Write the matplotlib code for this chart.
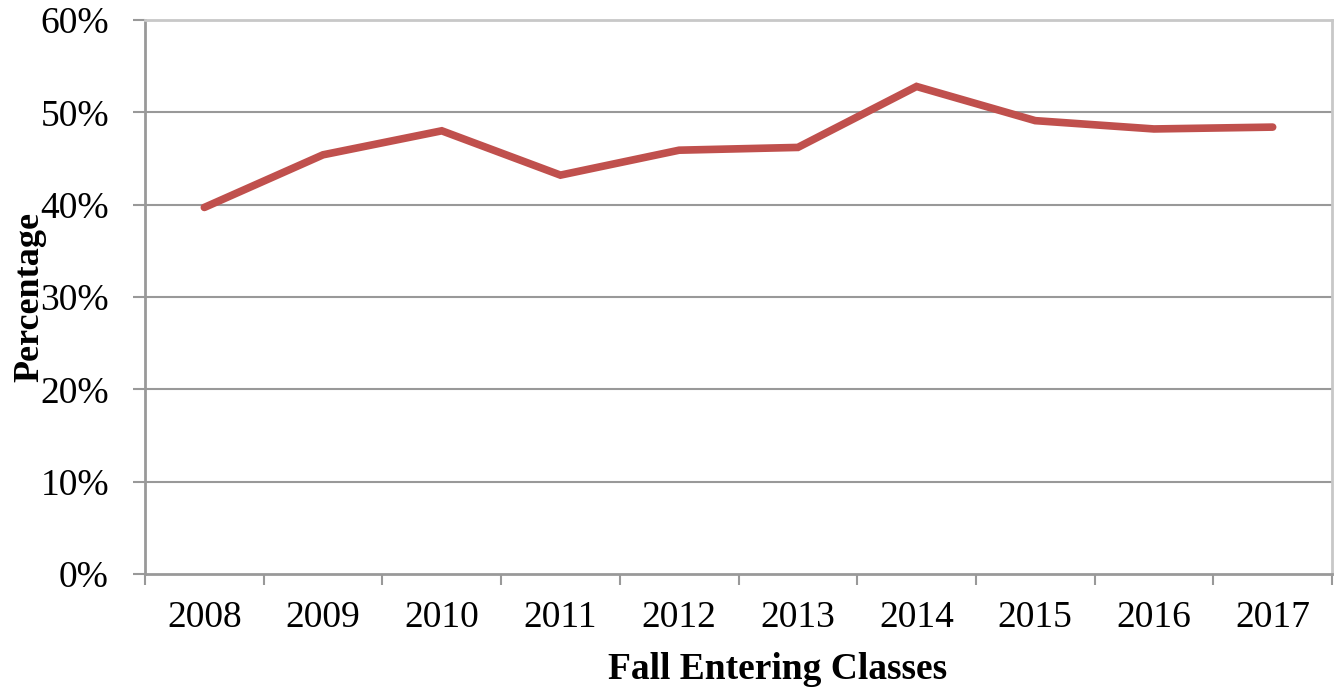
import matplotlib
matplotlib.use('Agg')
import matplotlib.pyplot as plt
from matplotlib.ticker import FixedLocator, PercentFormatter

# - Data
years = ['2008', '2009', '2010', '2011', '2012', '2013', '2014', '2015', '2016', '2017']
percent = [39.7, 45.4, 48.0, 43.2, 45.9, 46.2, 52.8, 49.1, 48.2, 48.4]

plt.rcParams['font.family'] = ['Liberation Serif', 'DejaVu Serif']

fig = plt.figure(figsize=(13.35, 6.92), dpi=100)
ax = fig.add_axes([145/1335, 1 - 574/692, (1332-145)/1335, (574-20)/692])

x = list(range(len(years)))
ax.plot(x, percent, color='#C0504D', lw=5.5, solid_capstyle='round', solid_joinstyle='miter', zorder=3)

ax.set_xlim(-0.5, len(years) - 0.5)
ax.set_ylim(0, 60)

# - Ticks
ax.set_yticks(range(0, 61, 10))
ax.yaxis.set_major_formatter(PercentFormatter(decimals=0))
ax.set_xticks(x)
ax.set_xticklabels(years)
ax.xaxis.set_minor_locator(FixedLocator([i - 0.5 for i in range(len(years) + 1)]))
ax.tick_params(axis='x', which='major', length=0, pad=19, labelsize=27)
ax.tick_params(axis='x', which='minor', length=8, width=1.5, color='#999999', direction='out')
ax.tick_params(axis='y', length=9, width=1.5, color='#999999', labelsize=27, pad=17)

# - Grid and spines
for v in range(10, 60, 10):
    ax.axhline(v, color='#999999', lw=1.5, zorder=1)
for side in ['left', 'bottom']:
    ax.spines[side].set_color('#999999')
    ax.spines[side].set_linewidth(2)
for side in ['top', 'right']:
    ax.spines[side].set_color('#c8c8c8')
    ax.spines[side].set_linewidth(2)

ax.set_ylabel('Percentage', fontsize=26, fontweight='bold')
ax.yaxis.set_label_coords(-0.083, 0.5)
ax.set_xlabel('Fall Entering Classes', fontsize=27, fontweight='bold', labelpad=12)
ax.xaxis.label.set_x(0.533)

plt.savefig('out.png', dpi=100)
plt.close()
